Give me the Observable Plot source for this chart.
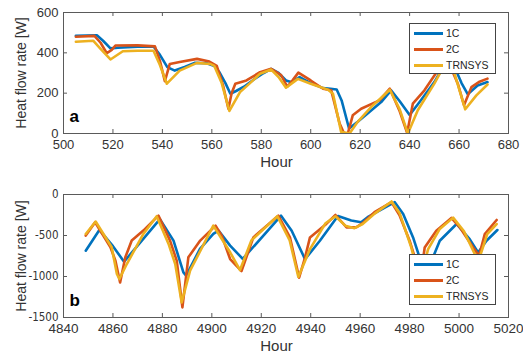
<!DOCTYPE html>
<html>
<head>
<meta charset="utf-8">
<script src="https://cdn.jsdelivr.net/npm/d3@7"></script>
<script src="https://cdn.jsdelivr.net/npm/@observablehq/plot@0.6"></script>
<style>
  html, body { margin: 0; padding: 0; background: #fff; }
  #chart { position: relative; width: 523px; height: 361px; font-family: "Liberation Sans", Arial, sans-serif; }
  #chart > .panel { position: absolute; left: 0; }
  .legend { position: absolute; }
</style>
</head>
<body>
<div id="chart"></div>
<script>
// ---------- Series names & colours ----------
const seriesNames = ["1C", "2C", "TRNSYS"];
const seriesColors = ["#0072BD", "#D95319", "#EDB120"];

// ---------- Panel a ----------
const aHour1C = [505, 513.5, 516, 519, 522, 530, 536.5, 539, 542, 545, 549, 553, 558, 561, 563, 565.5, 567.5, 570, 573, 577, 581, 584, 587, 590, 592, 595.5, 600, 605, 608, 610.5, 612.5, 615.5, 619, 623, 628.5, 632.5, 636, 640, 644.5, 650, 653.5, 655.5, 657, 661, 663.5, 667.5, 671.5];
const aHeat1C = [485, 487, 460, 422, 425, 430, 430, 390, 329, 312, 330, 350, 348, 335, 305, 250, 197, 212, 232, 268, 300, 320, 300, 263, 255, 280, 250, 225, 222, 218, 164, 25, 58, 99, 156, 214, 160, 92, 164, 255, 329, 370, 362, 250, 195, 238, 255];

const aHour2C = [505, 512.5, 515, 517.5, 519.5, 521, 530, 537, 539, 541, 543, 547, 554, 559, 562, 564.5, 566.7, 568, 569.5, 574, 579.5, 584, 588, 590.5, 592.8, 595, 600, 605, 608.3, 611.7, 613.5, 615, 617, 620.4, 627.8, 632, 636, 639, 641.3, 646, 651.4, 655, 659.5, 662, 665, 668, 671.5];
const aHeat2C = [480, 484, 450, 398, 415, 436, 437, 432, 360, 260, 345, 355, 370, 357, 335, 240, 123, 200, 247, 263, 304, 321, 290, 232, 266, 302, 263, 222, 214, 49, 0, 0, 90, 123, 164, 222, 110, 3, 148, 214, 312, 375, 247, 140, 230, 255, 272];

const aHourTR = [505, 512, 515, 519, 524, 530, 536.4, 539, 541.8, 547, 554, 559.3, 561, 564, 567.1, 571.4, 575, 579.5, 584, 587, 590, 594.8, 600, 607, 609, 612.3, 615.7, 619, 624.5, 632, 636, 639.3, 643.3, 650, 655, 658.2, 662.5, 667, 671.5];
const aHeatTR = [455, 460, 420, 367, 408, 410, 410, 340, 247, 312, 350, 345, 335, 250, 112, 205, 245, 296, 317, 280, 227, 271, 247, 217, 197, 8, 0, 58, 132, 217, 120, 0, 115, 247, 360, 296, 120, 189, 243];

// ---------- Panel b ----------
const bHour1C = [4849, 4854.5, 4860, 4864.5, 4879, 4884.5, 4888.5, 4889.6, 4895.2, 4900.6, 4902.7, 4907.4, 4912.5, 4928, 4932.3, 4937.7, 4943.7, 4951, 4956.4, 4960.4, 4963, 4974, 4977.4, 4981.4, 4986, 4989, 4992.2, 4999, 5004.3, 5007.7, 5011.1, 5015.5];
const bHeat1C = [-685, -432, -630, -820, -300, -562, -950, -990, -664, -481, -440, -623, -785, -258, -442, -789, -564, -262, -318, -338, -277, -94, -237, -523, -950, -800, -564, -360, -544, -708, -564, -433];

const bHour2C = [4849, 4852.8, 4859, 4861, 4862.9, 4865, 4867.6, 4872.3, 4878.4, 4883.1, 4885.8, 4888.1, 4890.5, 4895.3, 4901.5, 4904, 4907.4, 4912, 4916.8, 4926.9, 4931.6, 4935.3, 4937.7, 4939.7, 4946.4, 4950, 4954.5, 4958.4, 4961, 4965.8, 4972.7, 4976, 4980, 4984.5, 4986.1, 4990.8, 4996.9, 5000.3, 5005.7, 5008.1, 5010.4, 5015.2];
const bHeat2C = [-501, -338, -644, -807, -1072, -766, -562, -440, -257, -562, -807, -1377, -766, -562, -379, -501, -787, -933, -523, -258, -523, -1014, -769, -523, -356, -250, -401, -400, -350, -216, -94, -258, -564, -1000, -646, -441, -286, -401, -646, -748, -483, -311];

const bHourTR = [4849, 4853, 4859.5, 4861.6, 4862.6, 4865.6, 4872.3, 4877.7, 4882.5, 4885.2, 4887.8, 4891.2, 4900.6, 4907.4, 4911.4, 4916, 4926.5, 4931.5, 4935, 4939.7, 4946, 4950, 4954, 4957.7, 4961, 4966, 4972.7, 4976, 4980.7, 4984, 4987.5, 4992.2, 4997.6, 5002, 5006.4, 5008.4, 5011.4, 5015.2];
const bHeatTR = [-481, -330, -644, -970, -1031, -848, -481, -265, -603, -848, -1316, -929, -379, -705, -921, -560, -265, -560, -1006, -666, -350, -265, -380, -411, -360, -230, -85, -230, -646, -1050, -666, -420, -282, -450, -728, -760, -483, -360];

// ---------- Ticks & labels ----------
const aXTicks = [500, 520, 540, 560, 580, 600, 620, 640, 660, 680];
const aYTicks = [0, 200, 400, 600];
const bXTicks = [4840, 4860, 4880, 4900, 4920, 4940, 4960, 4980, 5000, 5020];
const bYTicks = [-1500, -1000, -500, 0];
const xLabel = "Hour";
const yLabel = "Heat flow rate [W]";
const panelLetters = ["a", "b"];

// ---------- Build ----------
function toRows(hours, values, name) {
  return hours.map((h, i) => ({hour: h, value: values[i], series: name}));
}

const W = 523, ML = 63, MR = 15;
const axisColor = "#5a5a5a";
const fmt = d => String(d);
const baseFont = '"Liberation Sans", Arial, sans-serif';
const narrowFont = '"Liberation Sans Narrow", "DejaVu Sans Condensed", "Arial Narrow", sans-serif';

function panel({rows, xDomain, yDomain, xTicks, yTicks, height, mt, mb, letter, xFontSize, yFont, yFontSize}) {
  const innerW = W - ML - MR;
  const innerH = height - mt - mb;
  return Plot.plot({
    width: W, height,
    marginLeft: ML, marginRight: MR, marginTop: mt, marginBottom: mb,
    style: {fontFamily: baseFont, fontSize: xFontSize + "px", color: "#333", background: "#fff", overflow: "visible"},
    x: {domain: xDomain, label: null},
    y: {domain: yDomain, label: null},
    color: {domain: seriesNames, range: seriesColors},
    marks: [
      Plot.lineY(rows, {x: "hour", y: "value", stroke: "series", strokeWidth: 2.6, strokeLinejoin: "round", clip: true}),
      Plot.axisX({ticks: xTicks, tickSize: 0, tickPadding: 6, tickFormat: fmt, label: null, fontSize: xFontSize}),
      Plot.axisY({ticks: yTicks, tickSize: 0, tickPadding: 5, tickFormat: fmt, label: null, fontFamily: yFont, fontSize: yFontSize}),
      Plot.frame({stroke: axisColor, strokeWidth: 1}),
      Plot.ruleX(xTicks, {insetTop: innerH - 4, stroke: axisColor}),
      Plot.ruleX(xTicks, {insetBottom: innerH - 4, stroke: axisColor}),
      Plot.ruleY(yTicks, {insetRight: innerW - 4, stroke: axisColor}),
      Plot.ruleY(yTicks, {insetLeft: innerW - 4, stroke: axisColor}),
      Plot.text([yLabel], {frameAnchor: "left", textAnchor: "middle", lineAnchor: "middle", dx: -41.5, rotate: -90, fontSize: 14, fill: "#333"}),
      Plot.text([xLabel], {frameAnchor: "bottom", textAnchor: "middle", dx: -9.5, dy: 33, fontSize: 15, fill: "#333"}),
      Plot.text([letter], {frameAnchor: "bottom-left", dx: 6, dy: -12, textAnchor: "start", lineAnchor: "bottom", fontSize: 17, fontWeight: "bold", fill: "#000"})
    ]
  });
}

function legend(left, top) {
  const div = document.createElement("div");
  div.className = "legend";
  div.style.left = left + "px";
  div.style.top = top + "px";
  const w = 87, h = 51;
  const svg = d3.create("svg").attr("width", w).attr("height", h);
  svg.append("rect").attr("x", 0.5).attr("y", 0.5).attr("width", w - 1).attr("height", h - 1)
    .attr("fill", "#fff").attr("stroke", "#444").attr("stroke-width", 1);
  const ys = [10.5, 26.5, 42.5];
  seriesNames.forEach((name, i) => {
    svg.append("line").attr("x1", 5).attr("x2", 34).attr("y1", ys[i]).attr("y2", ys[i])
      .attr("stroke", seriesColors[i]).attr("stroke-width", 3);
    svg.append("text").attr("x", 37).attr("y", ys[i]).attr("dy", "0.36em")
      .attr("font-family", baseFont).attr("font-size", 10.5)
      .attr("fill", "#262626").text(name);
  });
  div.appendChild(svg.node());
  return div;
}

const chart = document.getElementById("chart");

const rowsA = [
  ...toRows(aHour1C, aHeat1C, "1C"),
  ...toRows(aHour2C, aHeat2C, "2C"),
  ...toRows(aHourTR, aHeatTR, "TRNSYS")
];
const rowsB = [
  ...toRows(bHour1C, bHeat1C, "1C"),
  ...toRows(bHour2C, bHeat2C, "2C"),
  ...toRows(bHourTR, bHeatTR, "TRNSYS")
];

const pa = panel({rows: rowsA, xDomain: [500, 680], yDomain: [0, 600], xTicks: aXTicks, yTicks: aYTicks, height: 180, mt: 12, mb: 47, letter: panelLetters[0], xFontSize: 13, yFont: baseFont, yFontSize: 13});
pa.classList.add("panel");
pa.style.top = "0px";
chart.appendChild(pa);

const pb = panel({rows: rowsB, xDomain: [4840, 5020], yDomain: [-1500, 0], xTicks: bXTicks, yTicks: bYTicks, height: 181, mt: 14, mb: 44, letter: panelLetters[1], xFontSize: 13.5, yFont: narrowFont, yFontSize: 11.5});
pb.classList.add("panel");
pb.style.top = "180px";
chart.appendChild(pb);

chart.appendChild(legend(409, 23));
chart.appendChild(legend(409, 254));
</script>
</body>
</html>
